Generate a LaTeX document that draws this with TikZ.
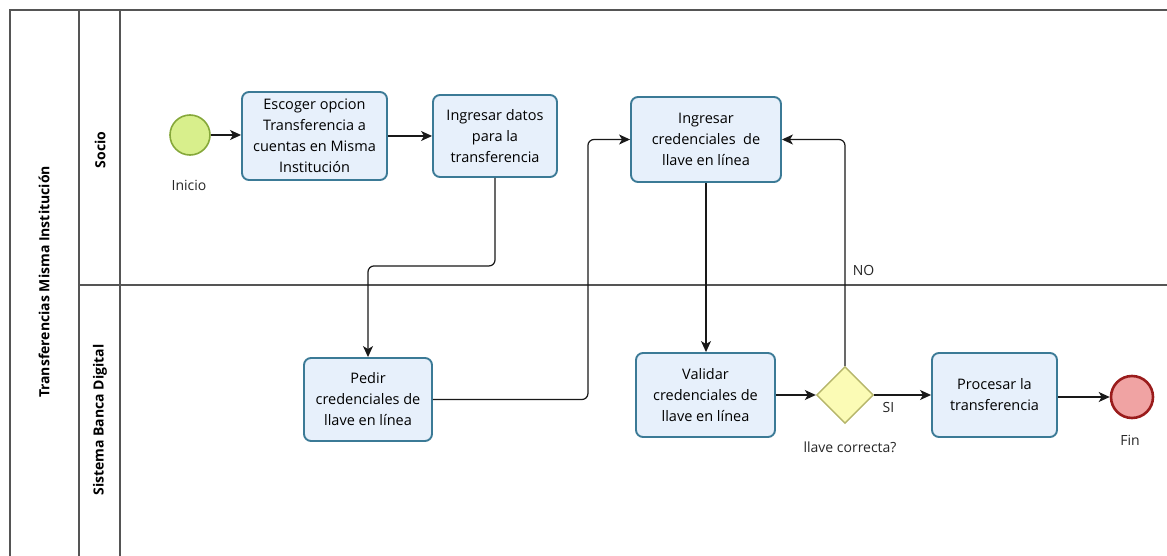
\documentclass[tikz,border=0pt]{standalone}
\usepackage{fontspec}
\setmainfont{Open Sans}
\usetikzlibrary{arrows.meta,shapes.geometric,calc}
\definecolor{taskf}{HTML}{E7F0FB}
\definecolor{taskb}{HTML}{3B7A96}
\definecolor{startf}{HTML}{D8EF8C}
\definecolor{startb}{HTML}{86A83A}
\definecolor{gwf}{HTML}{FBFBB5}
\definecolor{gwb}{HTML}{B5B56A}
\definecolor{endf}{HTML}{F0A3A3}
\definecolor{endb}{HTML}{9A1C1C}
\definecolor{poolline}{HTML}{555555}
\tikzset{
  task/.style={draw=taskb, fill=taskf, line width=1.9pt, rounded corners=7pt,
    align=center, inner sep=0pt, font=\fontsize{14.5}{21}\selectfont},
  startev/.style={circle, draw=startb, fill=startf, line width=1.6pt, minimum size=40pt, inner sep=0pt},
  endev/.style={circle, draw=endb, fill=endf, line width=2.6pt, minimum size=42pt, inner sep=0pt},
  gateway/.style={diamond, draw=gwb, fill=gwf, line width=1.4pt, minimum width=57pt, minimum height=57pt, inner sep=0pt},
  flow/.style={draw=black!90, line width=1.2pt, rounded corners=6pt, -{Stealth[length=11pt,width=10pt,inset=3pt]}},
  lbl/.style={font=\fontsize{14}{17}\selectfont, text=black!85},
  lanetitle/.style={font=\bfseries\fontsize{14}{17}\selectfont, rotate=90},
  poolrule/.style={draw=poolline, line width=1.1pt}
}
\begin{document}
\begin{tikzpicture}[x=1pt,y=-1pt]
\useasboundingbox (0,0) rectangle (1167,556);

% pool and lanes
\draw[poolrule] (10,556) -- (10,10) -- (1167,10);
\draw[poolrule] (79,10) -- (79,556);
\draw[poolrule] (120,10) -- (120,556);
\draw[poolrule] (79,285) -- (1167,285);
\node[lanetitle] (pool) at (44,282) {Transferencias Misma Institución};
\node[lanetitle] (lane1) at (100,150) {Socio};
\node[lanetitle] (lane2) at (100,420) {Sistema Banca Digital};

% Socio lane
\node[startev] (inicio) at (190,135) {};
\node[lbl] (inicioL) at (189,185) {Inicio};
\node[task, minimum width=145pt, minimum height=88pt] (t1) at (314.5,136)
  {Escoger opcion\\Transferencia a\\cuentas en Misma\\Institución};
\node[task, minimum width=124pt, minimum height=82pt] (t2) at (495,136)
  {Ingresar datos\\para la\\transferencia};
\node[task, minimum width=150pt, minimum height=85pt] (t3) at (706,139.5)
  {Ingresar\\credenciales\ \ de\\llave en línea};

% Sistema Banca Digital lane
\node[task, minimum width=128pt, minimum height=83pt] (pedir) at (368,399.5)
  {Pedir\\credenciales de\\llave en línea};
\node[task, minimum width=139pt, minimum height=84pt] (valid) at (705.5,395)
  {Validar\\credenciales de\\llave en línea};
\node[gateway] (gw) at (845,395) {};
\node[lbl] (gwL) at (850,447) {llave correcta?};
\node[task, minimum width=125pt, minimum height=84pt] (proc) at (994.5,395)
  {Procesar la\\transferencia};
\node[endev] (fin) at (1132,397) {};
\node[lbl] (finL) at (1130,440) {Fin};

% sequence flows
\draw[flow] (inicio) -- (t1.west |- inicio);
\draw[flow] (t1.east |- t2.west) -- (t2.west);
\draw[flow] (t2.south) -- ++(0,88) -| (pedir.north);
\draw[flow] (pedir.east) -- ++(155,0) |- (t3.west);
\draw[flow] (t3.south) -- (t3.south |- valid.north);
\draw[flow] (valid.east) -- (gw.west);
\draw[flow] (gw.east) -- node[lbl, below, pos=0.25, yshift=-3pt] (si) {SI} (proc.west);
\draw[flow] (gw.north) |- node[lbl, pos=0.21, right, xshift=4pt] (no) {NO} (t3.east);
\draw[flow] (proc.east |- fin) -- (fin.west);
\end{tikzpicture}
\end{document}
